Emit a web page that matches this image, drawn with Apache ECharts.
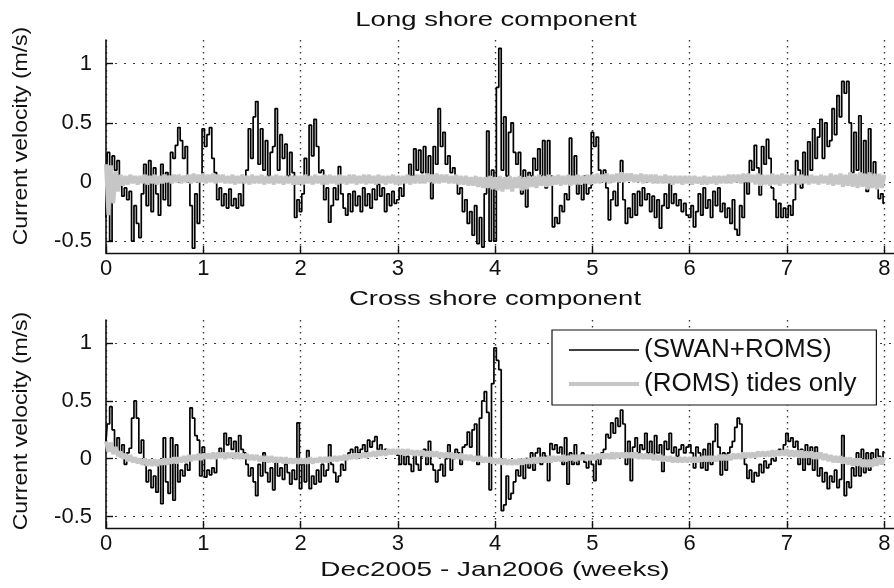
<!DOCTYPE html>
<html>
<head>
<meta charset="utf-8">
<title>Current velocity – long shore and cross shore components</title>
<script src="https://cdn.jsdelivr.net/npm/echarts@6/dist/echarts.min.js"></script>
<style>
  html, body { margin: 0; padding: 0; background: #fff; }
  #chart { width: 894px; height: 588px; }
</style>
</head>
<body>
<div id="chart"></div>
<script>
// Sampling interval of every series, in weeks from the start of Dec 2005.
const sampleStepWeeks = 0.025;

// Tick values
const weekTicks = [0, 1, 2, 3, 4, 5, 6, 7, 8];
const velocityTicks = [-0.5, 0, 0.5, 1];

// Long shore velocity (m/s), SWAN+ROMS run
const longShoreSwanRoms = [
  -0.30, 0.25, -0.50, 0.22, 0.10, 0.18, 0.05, -0.12, -0.05, -0.15, -0.08, -0.50, -0.20, -0.35, -0.47, -0.10, 0.15, -0.20, 0.18, -0.25,
  0.12, -0.10, -0.28, 0.15, -0.15, 0.08, -0.20, 0.25, 0.20, 0.31, 0.46, 0.35, 0.20, 0.30, 0.05, -0.20, -0.56, -0.10, -0.35, 0.05,
  0.45, 0.30, 0.40, 0.46, 0.20, 0.08, -0.15, -0.05, -0.20, -0.10, -0.22, -0.06, -0.20, -0.14, -0.22, -0.10, -0.20, 0.02, 0.10, 0.45,
  0.20, 0.55, 0.68, 0.15, 0.45, 0.10, 0.35, 0.05, 0.25, 0.30, 0.62, 0.10, 0.40, 0.20, 0.32, 0.05, 0.25, 0.08, -0.30, -0.15,
  -0.25, -0.10, 0.20, 0.05, 0.48, 0.22, 0.53, 0.30, 0.08, 0.10, -0.15, -0.05, -0.34, -0.20, -0.05, -0.15, 0.13, -0.10, -0.22, -0.28,
  -0.10, -0.25, -0.08, -0.20, -0.12, -0.25, -0.05, -0.20, -0.10, -0.22, -0.06, -0.15, -0.02, -0.12, -0.05, -0.25, -0.10, -0.20, -0.08, -0.18,
  -0.15, -0.05, -0.12, 0.00, 0.05, 0.15, 0.05, 0.28, 0.10, 0.27, 0.08, 0.30, 0.05, 0.22, -0.14, 0.30, 0.15, 0.62, 0.30, 0.42,
  0.15, 0.22, 0.08, 0.12, 0.03, -0.10, -0.05, -0.25, -0.15, -0.35, -0.25, -0.45, -0.20, -0.52, -0.30, -0.55, -0.10, 0.43, -0.50, 0.10,
  -0.50, 0.80, 1.13, 0.10, 0.55, 0.05, 0.42, 0.50, 0.25, 0.15, 0.25, -0.10, 0.10, -0.21, 0.08, 0.05, 0.20, 0.10, 0.28, 0.05,
  0.35, -0.05, 0.35, 0.05, -0.38, -0.30, -0.35, -0.20, -0.25, -0.10, -0.15, 0.37, 0.00, 0.22, -0.10, -0.02, -0.15, 0.05, -0.10, -0.05,
  0.42, 0.30, 0.38, 0.10, 0.05, 0.10, -0.05, -0.32, -0.15, -0.08, -0.20, 0.05, 0.18, -0.15, -0.35, -0.22, -0.30, -0.10, -0.28, -0.08,
  -0.20, -0.05, -0.15, -0.10, -0.25, -0.12, -0.30, -0.15, -0.39, -0.20, -0.10, -0.22, 0.00, -0.18, -0.10, -0.20, -0.15, -0.25, -0.18, -0.28,
  -0.30, -0.20, -0.38, -0.25, -0.10, -0.28, -0.05, -0.22, -0.15, -0.30, -0.08, -0.20, -0.05, -0.25, -0.18, -0.30, -0.22, -0.35, -0.15, -0.40,
  -0.45, -0.20, -0.30, 0.00, -0.10, 0.18, 0.10, 0.31, 0.12, -0.11, 0.30, 0.15, 0.36, 0.20, -0.05, -0.15, -0.30, -0.18, -0.30, -0.22,
  -0.30, -0.20, -0.28, -0.15, 0.18, 0.10, -0.05, 0.25, 0.00, 0.34, 0.10, 0.45, 0.20, 0.38, 0.53, 0.20, 0.50, 0.30, 0.35, 0.62,
  0.40, 0.73, 0.55, 0.85, 0.75, 0.85, 0.50, 0.08, 0.42, 0.10, 0.56, 0.05, 0.35, -0.08, 0.45, 0.05, 0.17, 0.00, -0.14, -0.10,
  -0.18
];

// Long shore velocity (m/s), ROMS tides only
const longShoreTides = [
  0.15, -0.28, 0.14, -0.18, 0.09, -0.08, 0.06, -0.03, 0.05, -0.02, 0.06, -0.01, 0.05, -0.02, 0.05, -0.01, 0.06, -0.02, 0.05, -0.01,
  0.06, -0.02, 0.05, -0.01, 0.06, 0.00, 0.05, -0.01, 0.06, 0.00, 0.06, -0.01, 0.05, 0.00, 0.06, -0.01, 0.07, 0.00, 0.06, 0.00,
  0.07, -0.01, 0.06, 0.00, 0.07, -0.01, 0.06, 0.00, 0.06, -0.01, 0.05, -0.01, 0.06, -0.02, 0.05, -0.01, 0.06, -0.01, 0.05, -0.02,
  0.06, -0.01, 0.05, -0.01, 0.06, -0.02, 0.05, -0.01, 0.05, -0.02, 0.06, -0.01, 0.05, -0.02, 0.05, -0.01, 0.05, -0.02, 0.05, -0.02,
  0.05, -0.02, 0.06, -0.01, 0.05, -0.02, 0.06, -0.01, 0.05, -0.02, 0.06, -0.02, 0.06, -0.01, 0.05, -0.02, 0.06, -0.01, 0.05, -0.02,
  0.06, -0.01, 0.06, -0.02, 0.05, -0.01, 0.06, -0.02, 0.06, -0.01, 0.05, -0.02, 0.06, -0.01, 0.05, -0.02, 0.05, -0.01, 0.06, -0.02,
  0.05, -0.02, 0.05, -0.01, 0.06, -0.02, 0.05, -0.01, 0.06, -0.01, 0.06, -0.01, 0.07, 0.00, 0.06, -0.01, 0.07, -0.01, 0.06, 0.00,
  0.06, -0.01, 0.05, -0.01, 0.06, -0.02, 0.05, -0.02, 0.05, -0.03, 0.04, -0.03, 0.05, -0.04, 0.04, -0.05, 0.04, -0.05, 0.05, -0.06,
  0.04, -0.07, 0.05, -0.08, 0.04, -0.06, 0.05, -0.08, 0.04, -0.05, 0.05, -0.07, 0.04, -0.06, 0.05, -0.04, 0.05, -0.05, 0.06, -0.03,
  0.05, -0.04, 0.06, -0.03, 0.05, -0.02, 0.06, -0.03, 0.05, -0.02, 0.06, -0.03, 0.05, -0.02, 0.06, -0.02, 0.05, -0.01, 0.06, -0.02,
  0.06, -0.01, 0.07, -0.01, 0.06, 0.00, 0.07, -0.01, 0.06, 0.00, 0.07, 0.00, 0.08, 0.00, 0.07, 0.01, 0.07, 0.00, 0.06, 0.00,
  0.07, -0.01, 0.06, 0.00, 0.06, -0.01, 0.06, -0.01, 0.05, -0.01, 0.06, -0.01, 0.05, -0.02, 0.05, -0.01, 0.05, -0.02, 0.05, -0.01,
  0.05, -0.02, 0.05, -0.01, 0.04, -0.02, 0.05, -0.02, 0.04, -0.01, 0.05, -0.02, 0.05, -0.01, 0.05, -0.01, 0.06, -0.01, 0.06, 0.00,
  0.06, -0.01, 0.07, 0.00, 0.07, 0.00, 0.06, -0.02, 0.07, -0.03, 0.06, -0.02, 0.06, -0.03, 0.07, -0.02, 0.06, -0.03, 0.07, -0.01,
  0.06, -0.02, 0.06, -0.01, 0.05, -0.02, 0.06, -0.01, 0.05, -0.02, 0.06, -0.01, 0.05, -0.02, 0.06, -0.01, 0.05, -0.02, 0.07, -0.03,
  0.06, -0.02, 0.07, -0.04, 0.06, -0.03, 0.08, -0.04, 0.07, -0.05, 0.08, -0.04, 0.07, -0.06, 0.08, -0.05, 0.07, -0.06, 0.07, -0.05,
  0.06
];

// Cross shore velocity (m/s), SWAN+ROMS run
const crossShoreSwanRoms = [
  0.15, 0.30, 0.45, 0.25, 0.08, 0.18, 0.02, 0.12, -0.05, 0.05, 0.09, 0.35, 0.50, 0.35, 0.05, 0.16, -0.05, -0.20, -0.10, -0.25,
  -0.15, -0.29, -0.05, -0.39, 0.18, -0.20, -0.30, 0.18, -0.36, 0.12, -0.20, -0.10, -0.15, -0.05, -0.10, 0.44, 0.35, 0.20, 0.16, -0.15,
  0.10, -0.16, -0.10, -0.14, -0.08, -0.12, 0.05, 0.09, 0.05, 0.22, 0.12, 0.18, 0.08, 0.15, 0.05, 0.20, 0.08, 0.05, -0.05, -0.15,
  -0.08, -0.20, -0.32, -0.05, -0.15, 0.05, -0.12, -0.20, -0.08, -0.27, 0.00, -0.15, -0.08, -0.18, -0.05, -0.12, -0.22, -0.10, -0.18, 0.31,
  -0.26, -0.05, -0.20, 0.07, -0.26, -0.15, -0.22, -0.10, -0.20, -0.05, -0.15, -0.10, 0.12, -0.05, -0.12, -0.20, -0.15, -0.05, -0.10, 0.00,
  0.05, 0.08, 0.02, 0.10, 0.05, 0.08, 0.12, 0.06, 0.16, 0.10, 0.15, 0.19, 0.08, 0.12, 0.05, 0.08, 0.06, 0.04, 0.07, 0.05,
  0.03, -0.05, 0.05, -0.05, 0.02, -0.05, -0.11, 0.05, -0.05, -0.10, 0.02, 0.08, -0.05, 0.15, -0.05, -0.10, -0.20, -0.10, -0.05, -0.15,
  0.00, 0.12, -0.10, 0.00, 0.08, 0.05, -0.05, 0.10, 0.12, 0.23, 0.10, 0.25, 0.30, -0.05, 0.35, 0.50, 0.58, 0.40, -0.27, 0.65,
  0.96, 0.85, 0.77, -0.45, -0.40, -0.15, -0.35, -0.30, -0.20, -0.10, -0.15, -0.05, -0.17, 0.00, -0.08, 0.05, -0.10, 0.05, 0.09, -0.05,
  0.05, 0.02, -0.19, 0.13, 0.08, 0.12, 0.05, 0.10, -0.05, 0.18, -0.22, 0.05, -0.05, 0.12, -0.05, 0.02, 0.05, -0.03, -0.08, 0.02,
  -0.05, -0.19, 0.00, -0.05, 0.05, 0.08, 0.21, 0.18, 0.31, 0.22, 0.35, 0.28, 0.42, 0.30, -0.05, 0.15, -0.19, 0.10, 0.18, 0.05,
  0.12, 0.08, 0.22, 0.05, 0.15, 0.02, 0.20, 0.05, 0.12, -0.11, 0.15, 0.08, 0.22, 0.05, 0.10, 0.02, 0.08, 0.12, 0.05, 0.10,
  0.12, 0.05, -0.08, 0.10, 0.05, -0.08, 0.08, -0.10, 0.13, -0.05, 0.15, 0.30, 0.10, -0.14, 0.05, -0.10, 0.05, 0.10, 0.15, 0.27,
  0.35, 0.30, 0.05, -0.05, -0.17, -0.10, -0.20, -0.12, -0.15, -0.05, -0.12, -0.02, -0.08, -0.05, 0.00, -0.02, 0.05, 0.08, 0.06, 0.12,
  0.22, 0.15, 0.18, 0.10, 0.15, -0.05, 0.08, -0.10, 0.12, -0.05, 0.10, -0.10, 0.10, -0.15, -0.08, -0.20, -0.12, -0.26, -0.15, -0.20,
  -0.10, -0.25, -0.18, 0.20, -0.32, -0.20, -0.25, -0.08, -0.15, 0.05, -0.15, 0.08, -0.12, 0.05, -0.10, 0.05, -0.05, 0.08, 0.02, -0.04,
  0.06
];

// Cross shore velocity (m/s), ROMS tides only
const crossShoreTides = [
  0.15, 0.06, 0.14, 0.04, 0.10, 0.02, 0.06, 0.00, 0.04, -0.02, 0.03, -0.03, 0.01, -0.04, 0.00, -0.05, 0.00, -0.06, -0.01, -0.06,
  -0.01, -0.06, -0.01, -0.05, 0.00, -0.05, 0.00, -0.04, 0.01, -0.04, 0.01, -0.03, 0.02, -0.03, 0.03, -0.02, 0.03, -0.01, 0.04, -0.01,
  0.04, 0.00, 0.04, 0.00, 0.05, 0.00, 0.05, 0.01, 0.05, 0.00, 0.05, 0.01, 0.05, 0.00, 0.05, 0.00, 0.04, 0.00, 0.04, -0.01,
  0.03, -0.01, 0.03, -0.02, 0.02, -0.02, 0.02, -0.03, 0.02, -0.03, 0.01, -0.03, 0.01, -0.04, 0.01, -0.04, 0.00, -0.04, 0.00, -0.04,
  0.00, -0.04, 0.00, -0.04, 0.01, -0.04, 0.00, -0.03, 0.01, -0.03, 0.01, -0.03, 0.01, -0.02, 0.02, -0.02, 0.02, -0.01, 0.03, -0.01,
  0.03, 0.00, 0.04, 0.00, 0.04, 0.01, 0.05, 0.01, 0.05, 0.02, 0.06, 0.02, 0.07, 0.03, 0.07, 0.03, 0.08, 0.04, 0.08, 0.04,
  0.08, 0.04, 0.08, 0.03, 0.08, 0.04, 0.07, 0.03, 0.07, 0.03, 0.07, 0.02, 0.06, 0.02, 0.06, 0.02, 0.06, 0.01, 0.05, 0.01,
  0.05, 0.01, 0.05, 0.00, 0.04, 0.00, 0.04, -0.01, 0.03, -0.01, 0.03, -0.02, 0.02, -0.02, 0.02, -0.03, 0.01, -0.03, 0.01, -0.04,
  0.00, -0.04, 0.00, -0.05, 0.00, -0.05, -0.01, -0.05, -0.01, -0.05, 0.00, -0.05, 0.00, -0.04, 0.00, -0.04, 0.01, -0.04, 0.01, -0.03,
  0.01, -0.03, 0.02, -0.03, 0.02, -0.02, 0.02, -0.02, 0.03, -0.02, 0.02, -0.01, 0.03, -0.02, 0.03, -0.01, 0.03, -0.01, 0.03, -0.01,
  0.03, -0.01, 0.04, 0.00, 0.04, 0.00, 0.04, 0.00, 0.05, 0.00, 0.05, 0.01, 0.05, 0.01, 0.05, 0.01, 0.05, 0.01, 0.05, 0.00,
  0.04, 0.00, 0.04, 0.00, 0.04, -0.01, 0.03, -0.01, 0.03, -0.02, 0.02, -0.02, 0.02, -0.03, 0.01, -0.03, 0.01, -0.03, 0.01, -0.03,
  0.01, -0.03, 0.01, -0.03, 0.01, -0.02, 0.02, -0.02, 0.02, -0.02, 0.02, -0.02, 0.03, -0.01, 0.03, -0.01, 0.03, -0.01, 0.04, 0.00,
  0.04, 0.00, 0.05, 0.01, 0.05, 0.01, 0.05, 0.01, 0.06, 0.02, 0.06, 0.02, 0.06, 0.02, 0.07, 0.02, 0.07, 0.03, 0.07, 0.03,
  0.08, 0.02, 0.07, 0.02, 0.07, 0.01, 0.07, 0.01, 0.06, 0.01, 0.06, 0.00, 0.05, 0.00, 0.05, -0.01, 0.04, -0.02, 0.03, -0.03,
  0.02, -0.03, 0.02, -0.04, 0.01, -0.05, 0.01, -0.06, 0.00, -0.06, 0.00, -0.07, -0.01, -0.07, -0.01, -0.07, 0.00, -0.06, 0.01, -0.05,
  0.01
];

const SWAN_NAME = '(SWAN+ROMS)';
const TIDE_NAME = '(ROMS) tides only';
const FONT = '"Liberation Sans", Arial, Helvetica, sans-serif';
const TIDE_GREY = '#c6c6c6';

// Pair each sample with its time in weeks
function withTime(values) {
  return values.map((v, i) => [Math.round(i * sampleStepWeeks * 1000) / 1000, v]);
}

const dottedH = { color: '#3a3a3a', width: 1.2, type: [2, 7] };
const dottedV = { color: '#3a3a3a', width: 1.4, type: [1.6, 4.4] };

function makeXAxis(gridIndex) {
  return {
    type: 'value', gridIndex, min: 0, max: 8.1,
    axisLine: { show: true, onZero: false, lineStyle: { color: '#111', width: 1.4 } },
    axisTick: { show: true, inside: true, length: 7, customValues: weekTicks, lineStyle: { color: '#111', width: 1.4 } },
    axisLabel: { show: true, customValues: weekTicks, margin: 5, color: '#111', fontSize: 22, fontFamily: FONT },
    splitLine: { show: true, lineStyle: dottedV }
  };
}

function makeYAxis(gridIndex) {
  return {
    type: 'value', gridIndex, min: -0.6, max: 1.2,
    axisLine: { show: true, onZero: false, lineStyle: { color: '#111', width: 1.6 } },
    axisTick: { show: true, inside: true, length: 7, customValues: velocityTicks, lineStyle: { color: '#111', width: 1.4 } },
    axisLabel: { show: true, customValues: velocityTicks, margin: 14, color: '#111', fontSize: 22, fontFamily: FONT },
    splitLine: { show: true, lineStyle: dottedH }
  };
}

// Wave-driven run: drawn as a stepped trace so each sample reads as a vertical stroke
function swanSeries(values, axisIndex) {
  return {
    name: SWAN_NAME, type: 'line', xAxisIndex: axisIndex, yAxisIndex: axisIndex,
    data: withTime(values), symbol: 'none', showSymbol: false, step: 'middle',
    lineStyle: { color: '#000', width: 1.7 }, itemStyle: { color: '#000' },
    z: 2, silent: true
  };
}

// Tide-only run: thick light-grey trace drawn on top
function tideSeries(values, axisIndex) {
  return {
    name: TIDE_NAME, type: 'line', xAxisIndex: axisIndex, yAxisIndex: axisIndex,
    data: withTime(values), symbol: 'none', showSymbol: false,
    lineStyle: { color: TIDE_GREY, width: 4 }, itemStyle: { color: TIDE_GREY },
    z: 3, silent: true
  };
}

function caption(text, x, y, size, stretch, rotation) {
  return {
    type: 'text', x, y, rotation: rotation || 0, scaleX: stretch, silent: true,
    style: {
      text, font: size + 'px ' + FONT, fill: '#111',
      textAlign: 'center', textVerticalAlign: 'middle', align: 'center', verticalAlign: 'middle'
    }
  };
}

const chart = echarts.init(document.getElementById('chart'), null, { renderer: 'canvas' });
chart.setOption({
  animation: false,
  backgroundColor: '#fff',
  grid: [
    { left: 106, right: 0, top: 40, height: 213 },
    { left: 106, right: 0, top: 320, height: 208 }
  ],
  xAxis: [makeXAxis(0), makeXAxis(1)],
  yAxis: [makeYAxis(0), makeYAxis(1)],
  legend: {
    orient: 'vertical', left: 552, top: 330,
    data: [
      { name: SWAN_NAME, lineStyle: { width: 1.5, color: '#000' } },
      { name: TIDE_NAME, lineStyle: { width: 4, color: TIDE_GREY } }
    ],
    itemWidth: 70, itemHeight: 14, itemGap: 8,
    itemStyle: { opacity: 0 },
    textStyle: { fontSize: 26, color: '#111', fontFamily: FONT, lineHeight: 20 },
    borderColor: '#111', borderWidth: 1.2, padding: [7, 20, 8, 15],
    backgroundColor: '#fff', selectedMode: false, z: 10
  },
  series: [
    swanSeries(longShoreSwanRoms, 0),
    tideSeries(longShoreTides, 0),
    swanSeries(crossShoreSwanRoms, 1),
    tideSeries(crossShoreTides, 1)
  ],
  graphic: [
    caption('Long shore component', 496, 20, 21, 1.31),
    caption('Cross shore component', 495, 299, 21, 1.31),
    caption('Dec2005 - Jan2006 (weeks)', 495, 570, 21, 1.33),
    caption('Current velocity (m/s)', 21, 136, 20, 1.15, Math.PI / 2),
    caption('Current velocity (m/s)', 21, 421, 20, 1.15, Math.PI / 2)
  ]
});
</script>
</body>
</html>
